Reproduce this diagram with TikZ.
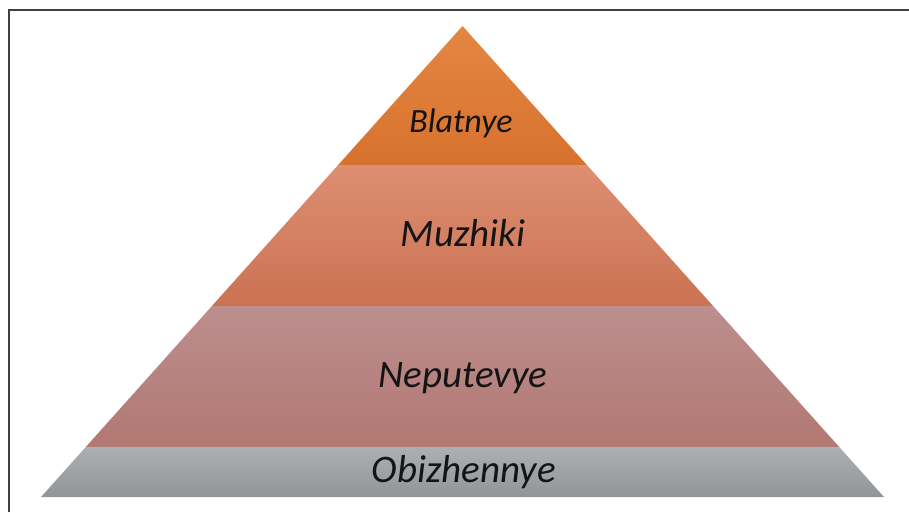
\documentclass[tikz,border=0pt]{standalone}
\usepackage{fontspec}
\setmainfont{Carlito}
\usetikzlibrary{calc}

\definecolor{blatTop}{RGB}{228,134,66}
\definecolor{blatBot}{RGB}{215,114,46}
\definecolor{muzhTop}{RGB}{222,142,114}
\definecolor{muzhBot}{RGB}{202,114,82}
\definecolor{nepuTop}{RGB}{188,142,142}
\definecolor{nepuBot}{RGB}{178,120,114}
\definecolor{obizTop}{RGB}{172,176,178}
\definecolor{obizBot}{RGB}{146,149,152}

\tikzset{
  lbl/.style={anchor=base, text=black!92, font=\fontsize{39}{44}\selectfont\itshape},
}

\begin{document}
\begin{tikzpicture}[x=1pt, y=-1pt]
  \useasboundingbox (0,0) rectangle (909,512);
  % frame
  \draw[line width=2pt, black!75] (8.5,512) -- (8.5,9.5) -- (909,9.5);

  \coordinate (apex) at (462.5,26);
  \coordinate (bl) at (41,497);
  \coordinate (br) at (884,497);
  \coordinate (l1) at ($(apex)!0.2951!(bl)$);
  \coordinate (r1) at ($(apex)!0.2951!(br)$);
  \coordinate (l2) at ($(apex)!0.5945!(bl)$);
  \coordinate (r2) at ($(apex)!0.5945!(br)$);
  \coordinate (l3) at ($(apex)!0.8938!(bl)$);
  \coordinate (r3) at ($(apex)!0.8938!(br)$);

  % layers
  \shade[top color=blatTop, bottom color=blatBot] (apex) -- (r1) -- (l1) -- cycle;
  \shade[top color=muzhTop, bottom color=muzhBot] (l1) -- (r1) -- (r2) -- (l2) -- cycle;
  \shade[top color=nepuTop, bottom color=nepuBot] (l2) -- (r2) -- (r3) -- (l3) -- cycle;
  \shade[top color=obizTop, bottom color=obizBot] (l3) -- (r3) -- (br) -- (bl) -- cycle;

  % labels
  \node[lbl, font=\fontsize{34}{38}\selectfont\itshape] (blat) at (461,132) {Blatnye};
  \node[lbl] (muzh) at (463,246) {Muzhiki};
  \node[lbl] (nepu) at (463,387) {Neputevye};
  \node[lbl] (obiz) at (464,482) {Obizhennye};
\end{tikzpicture}
\end{document}
